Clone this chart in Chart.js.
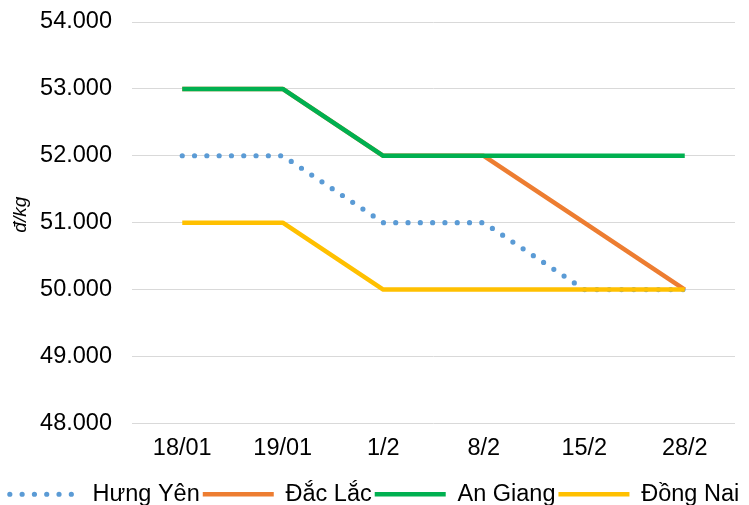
<!DOCTYPE html>
<html lang="vi">
<head>
    <meta charset="utf-8">
    <title>Giá lợn hơi</title>
    <script src="https://cdn.jsdelivr.net/npm/chart.js"></script>
    <style>
        body { margin: 0; background: #fff; overflow: hidden; }
    </style>
</head>
<body>
    <canvas id="priceChart" width="749" height="505"></canvas>

    <script>
        // Data
        const categories = ['18/01', '19/01', '1/2', '8/2', '15/2', '28/2'];
        const hungYen  = [52000, 52000, 51000, 51000, 50000, 50000];
        const dacLac   = [53000, 53000, 52000, 52000, 51000, 50000];
        const anGiang  = [53000, 53000, 52000, 52000, 52000, 52000];
        const dongNai  = [51000, 51000, 50000, 50000, 50000, 50000];
        const seriesNames = ['Hưng Yên', 'Đắc Lắc', 'An Giang', 'Đồng Nai'];
        const yMin = 48000, yMax = 54000, yStep = 1000;
        const yTitle = 'đ/kg';

        const font = 'Liberation Sans, Arial, sans-serif';

        // vi-VN style thousands separator: 54000 -> 54.000
        function fmt(v) {
            return String(v).replace(/\B(?=(\d{3})+(?!\d))/g, '.');
        }

        function line(label, data, color, idx, dash) {
            return {
                label: label,
                data: data,
                borderColor: color,
                backgroundColor: color,
                borderWidth: dash ? 5.2 : 4.5,
                borderDash: dash || [],
                borderCapStyle: dash ? 'round' : 'butt',
                borderJoinStyle: 'round',
                pointRadius: 0,
                pointHoverRadius: 0,
                tension: 0,
                order: 3 - idx   // later series on top, like the original
            };
        }

        const ctx = document.getElementById('priceChart').getContext('2d');
        new Chart(ctx, {
            type: 'line',
            data: {
                labels: categories,
                datasets: [
                    line(seriesNames[0], hungYen, '#5B9BD5', 0, [0, 12.3]),
                    line(seriesNames[1], dacLac, '#ED7D31', 1),
                    line(seriesNames[2], anGiang, '#00B050', 2),
                    line(seriesNames[3], dongNai, '#FFC000', 3)
                ]
            },
            options: {
                responsive: false,
                animation: false,
                layout: { padding: { top: 0, left: 0, right: 0, bottom: -11 } },
                plugins: {
                    tooltip: { enabled: false },
                    legend: {
                        position: 'bottom',
                        labels: {
                            usePointStyle: true,
                            pointStyle: 'line',
                            pointStyleWidth: 71,
                            padding: 3,
                            color: '#000',
                            font: { family: font, size: 23.5 },
                            sort: (a, b) => a.datasetIndex - b.datasetIndex,
                            generateLabels: chart => {
                                const items = Chart.defaults.plugins.legend.labels.generateLabels(chart);
                                items.forEach(it => {
                                    const ds = chart.data.datasets[it.datasetIndex];
                                    it.lineDash = ds.borderDash;
                                    it.lineCap = ds.borderCapStyle;
                                    it.lineWidth = ds.borderWidth;
                                    it.strokeStyle = ds.borderColor;
                                });
                                return items;
                            }
                        }
                    }
                },
                scales: {
                    x: {
                        offset: true,
                        grid: { display: false },
                        border: { display: false },
                        ticks: { color: '#000', padding: 3, font: { family: font, size: 23.5 } },
                        afterFit: s => { s.paddingRight = 14; s.height += 14; }
                    },
                    y: {
                        min: yMin,
                        max: yMax,
                        border: { display: false },
                        grid: { color: '#D9D9D9', lineWidth: 1, drawTicks: false },
                        ticks: {
                            stepSize: yStep,
                            color: '#000',
                            padding: 20,
                            font: { family: font, size: 23.5 },
                            callback: v => fmt(v)
                        },
                        title: {
                            display: true,
                            // leading spaces lift the rotated title a little, as in the original
                            text: '   ' + yTitle,
                            color: '#000',
                            padding: { top: 9, bottom: 0 },
                            font: { family: font, size: 19, style: 'italic' }
                        },
                        afterFit: s => { s.width = 132; s.paddingTop = 22; s.paddingBottom = 14; }
                    }
                }
            }
        });
    </script>
</body>
</html>
